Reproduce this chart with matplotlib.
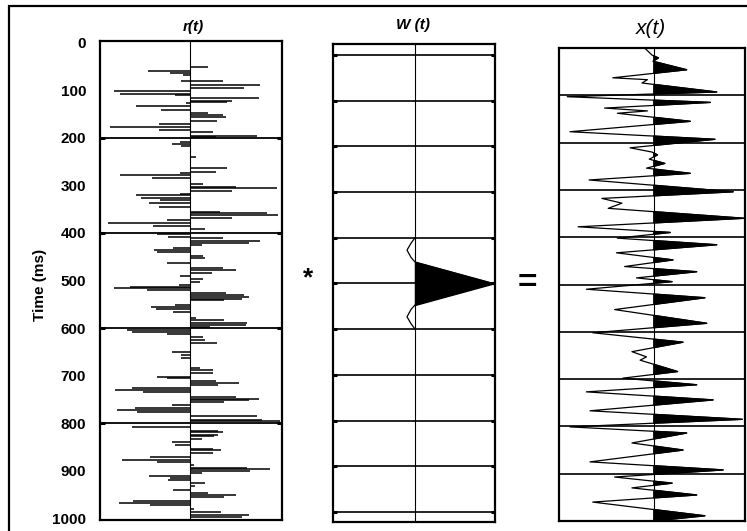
import numpy as np
import matplotlib.pyplot as plt
from matplotlib.patches import Rectangle

plt.rcParams['font.family'] = ['Liberation Sans', 'DejaVu Sans']

# reflectivity spikes r(t): time (ms), amplitude
r_t = [52, 59, 64, 69, 80, 82, 90, 96, 103, 108, 111, 117, 122, 126, 128, 134, 141,
       149, 153, 157, 164, 172, 178, 184, 188, 196, 199, 210, 214, 218, 241, 264, 272,
       274, 279, 284, 297, 303, 306, 312, 319, 321, 326, 331, 338, 345, 356, 358, 363,
       369, 373, 379, 386, 392, 402, 408, 411, 417, 422, 425, 432, 436, 440, 449, 453,
       463, 474, 478, 484, 490, 497, 503, 509, 513, 516, 520, 527, 530, 534, 539, 542,
       551, 556, 560, 566, 578, 582, 589, 593, 597, 604, 609, 613, 618, 625, 631, 650,
       656, 662, 684, 688, 694, 702, 705, 712, 715, 719, 725, 729, 735, 744, 749, 752,
       756, 761, 767, 771, 776, 785, 792, 795, 807, 817, 819, 824, 827, 833, 840, 845,
       854, 856, 862, 870, 876, 882, 887, 893, 896, 901, 904, 910, 914, 918, 925, 932,
       939, 947, 950, 954, 964, 967, 971, 979, 987, 993, 996]
r_amp = [0.20, -0.47, -0.22, -0.08, 0.36, -0.10, 0.78, 0.60, -0.85, -0.78, -0.17, 0.76,
         0.46, 0.41, -0.05, -0.60, -0.32, 0.20, 0.36, 0.40, 0.30, -0.35, -0.89, -0.35,
         0.25, 0.74, 0.29, -0.11, -0.20, -0.10, 0.07, 0.41, 0.29, -0.11, -0.78, -0.42,
         0.14, 0.51, 0.96, 0.47, -0.11, -0.60, -0.55, -0.33, -0.46, -0.35, 0.33, 0.85,
         0.98, 0.46, -0.26, -0.91, -0.41, 0.16, -0.37, -0.24, 0.36, 0.78, 0.65, 0.13,
         -0.19, -0.40, -0.37, 0.14, 0.16, -0.26, 0.36, 0.51, 0.24, -0.11, 0.14, 0.11,
         -0.12, -0.67, -0.85, -0.48, 0.40, 0.60, 0.65, 0.58, 0.38, -0.17, -0.43, -0.38,
         -0.19, 0.07, 0.38, 0.63, 0.62, 0.22, -0.70, -0.65, -0.26, 0.14, 0.16, 0.30,
         -0.20, -0.10, -0.10, 0.11, 0.25, 0.25, -0.37, -0.26, 0.29, 0.54, 0.31, -0.65,
         -0.83, -0.52, 0.51, 0.76, 0.65, 0.38, -0.20, -0.61, -0.81, -0.59, 0.74, 0.80,
         1.00, -0.65, 0.31, 0.36, 0.31, 0.27, 0.13, -0.20, -0.17, 0.25, 0.34, 0.25,
         -0.44, -0.76, -0.37, 0.04, 0.63, 0.89, 0.67, 0.13, -0.46, -0.22, -0.24, 0.16,
         0.05, -0.19, 0.20, 0.51, 0.38, -0.63, -0.79, -0.44, 0.04, 0.34, 0.65, 0.58]

# wavelet W(t)
w_t = [400, 412, 427, 443, 453, 500, 547, 557, 573, 588, 600]
w_amp = [0.0, -0.05, -0.10, -0.05, 0.0, 0.98, 0.0, -0.05, -0.10, -0.05, 0.0]

# seismic trace x(t), peaks
x_t = [0, 15, 21, 28, 46, 63, 67, 74, 93, 103, 115, 127, 133, 138, 155, 177, 193,
       211, 220, 226, 235, 244, 254, 265, 279, 304, 318, 328, 339, 360, 378, 390,
       402, 416, 433, 448, 462, 473, 486, 494, 510, 528, 553, 582, 602, 622, 642,
       653, 660, 684, 698, 712, 727, 744, 767, 785, 801, 814, 835, 850, 875, 892,
       907, 920, 930, 945, 960, 977, 989, 1000]
x_amp = [-0.10, -0.02, 0.05, -0.01, 0.36, -0.45, -0.07, -0.13, 0.69, -0.95, 0.62,
         -0.54, -0.07, -0.40, 0.40, -0.92, 0.67, -0.26, -0.02, 0.04, -0.05, 0.12,
         -0.08, 0.40, -0.71, 0.87, -0.57, -0.35, -0.50, 0.99, -0.83, 0.18, -0.40,
         0.69, -0.41, 0.21, -0.32, 0.47, -0.19, 0.20, -0.74, 0.56, -0.43, 0.58,
         -0.67, 0.32, -0.24, -0.08, -0.15, 0.26, -0.34, 0.47, -0.74, 0.65, -0.70,
         0.97, -0.92, 0.36, -0.24, 0.32, -0.70, 0.76, -0.43, 0.20, -0.24, 0.47,
         -0.67, 0.05, 0.56, 0.0]

W, H = 747, 531
fig = plt.figure(figsize=(W / 100, H / 100), dpi=100)


def box(x0, y0, x1, y1):
    return [x0 / W, 1 - y1 / H, (x1 - x0) / W, (y1 - y0) / H]


def frame(ax):
    for s in ax.spines.values():
        s.set_linewidth(1.6)
    ax.set_xticks([])


def edge_ticks(ax, lines, x0, x1):
    # short thick stubs where grid lines meet the frame
    ax.hlines(lines, x0, x0 + 0.05, colors='k', lw=2.2)
    ax.hlines(lines, x1 - 0.05, x1, colors='k', lw=2.2)


# r(t)
ax1 = fig.add_axes(box(100, 41, 282, 520))
frame(ax1)
ax1.hlines(r_t, 0, r_amp, colors='k', lw=1.1)
ax1.axvline(0, color='k', lw=0.8)
for g in [200, 400, 600, 800]:
    ax1.axhline(g, color='k', lw=1.3)
edge_ticks(ax1, [200, 400, 600, 800], -1, 1.02)
ax1.set_xlim(-1, 1.02)
ax1.set_ylim(1003, -3)
ax1.set_yticks(range(0, 1001, 100))
ax1.tick_params(axis='y', length=0, pad=10, labelsize=11)
for lab in ax1.get_yticklabels():
    lab.set_fontweight('bold')
fig.text(40 / W, 1 - 285 / H, 'Time (ms)', rotation=90, ha='center', va='center',
         fontsize=11, fontweight='bold')
fig.text(193 / W, 1 - 27 / H, 'r(t)', ha='center', va='center', fontsize=11,
         fontweight='bold', style='italic')

# W(t)
ax2 = fig.add_axes(box(333, 44, 495, 522))
frame(ax2)
ax2.set_yticks([])
ax2.plot(w_amp, w_t, 'k', lw=0.9)
ax2.fill_betweenx(w_t, 0, w_amp, where=np.array(w_amp) > 0, interpolate=True, color='k')
ax2.axvline(0, color='k', lw=0.8)
for g in range(0, 1001, 100):
    ax2.axhline(g, color='k', lw=1.2)
edge_ticks(ax2, list(range(0, 1001, 100)), -1.025, 1.0)
ax2.set_xlim(-1.025, 1.0)
ax2.set_ylim(1022, -24)
fig.text(413 / W, 1 - 25 / H, 'W (t)', ha='center', va='center', fontsize=11,
         fontweight='bold', style='italic')

# x(t)
ax3 = fig.add_axes(box(559, 48, 745, 521))
frame(ax3)
ax3.set_yticks([])
ax3.plot(x_amp, x_t, 'k', lw=0.9)
ax3.fill_betweenx(x_t, 0, x_amp, where=np.array(x_amp) > 0, interpolate=True, color='k')
ax3.axvline(0, color='k', lw=0.8)
for g in range(100, 1000, 100):
    ax3.axhline(g, color='k', lw=1.2)
ax3.set_xlim(-1.04, 1.0)
ax3.set_ylim(1000, 0)
fig.text(651 / W, 1 - 28 / H, 'x(t)', ha='center', va='center', fontsize=15,
         style='italic')

fig.text(308 / W, 1 - 278 / H, '*', ha='center', va='center', fontsize=19,
         fontweight='bold')
fig.text(527 / W, 1 - 283 / H, '=', ha='center', va='center', fontsize=24,
         fontweight='bold')

fig.add_artist(Rectangle((9 / W, -0.05), 1.2, 1.05 - 6 / H, transform=fig.transFigure,
                         fill=False, lw=1.6, ec='k'))

fig.savefig('out.png', dpi=100)
